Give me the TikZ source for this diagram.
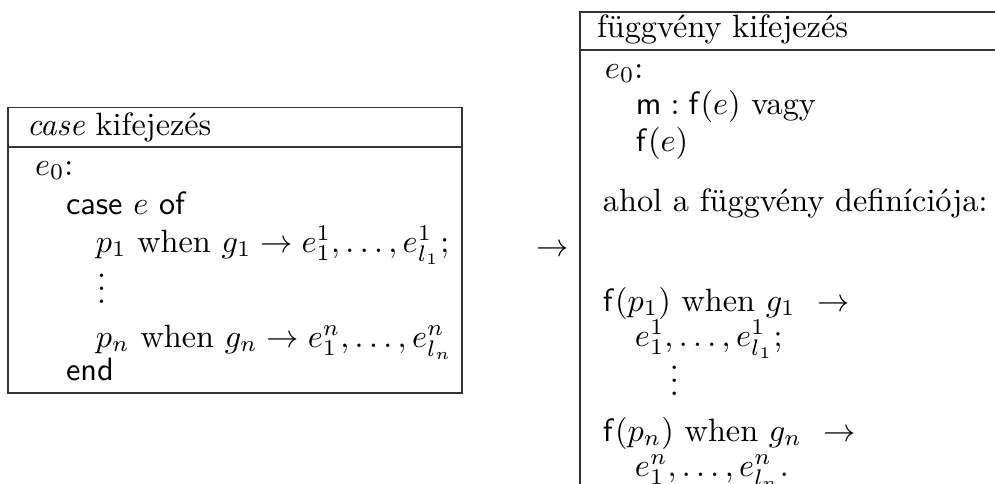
\documentclass[tikz,border=0pt]{standalone}
\usepackage{amsmath}
\begin{document}
\begin{tikzpicture}[x=0.31pt,y=-0.31pt,
  txt/.style={anchor=base west, inner sep=0pt, outer sep=0pt},
  boxline/.style={draw=black!80, line width=0.55pt}]
\useasboundingbox (0,0) rectangle (995,484);
\clip (0,0) rectangle (995,484);
% left box
\draw[boxline] (8,107.5) rectangle (462,393);
\draw[boxline] (8,147) -- (462,147);
\node[txt] (lh) at (27,135) {\textit{case} kifejezés};
\node[txt] (l1) at (35,175) {$e_0$:};
\node[txt] (l2) at (66,214) {\textsf{case} $e$ \textsf{of}};
\node[txt] (l3) at (96,252) {$p_1$ when $g_1 \rightarrow e_1^1, \ldots, e_{l_1}^1;$};
\node[txt] (l4) at (97,303) {$\vdots$};
\node[txt] (l5) at (96,347) {$p_n$ when $g_n \rightarrow e_1^n, \ldots, e_{l_n}^n$};
\node[txt] (l6) at (66,380) {\textsf{end}};
% arrow
\node[inner sep=0pt] (arr) at (553,251) {$\rightarrow$};
% right box
\draw[boxline] (1010,12) -- (580,12) -- (580,500);
\draw[boxline] (580,50) -- (1010,50);
\node[txt] (rh) at (597,37) {függvény kifejezés};
\node[txt] (r1) at (605,78) {$e_0$:};
\node[txt] (r2) at (636,114) {$\mathsf{m} : \mathsf{f}(e)$ vagy};
\node[txt] (r3) at (636,151) {$\mathsf{f}(e)$};
\node[txt] (r4) at (603,211) {ahol a függvény definíciója:};
\node[txt] (r5) at (603,311) {$\mathsf{f}(p_1)$ when $g_1$ \ $\rightarrow$};
\node[txt] (r6) at (635,346) {$e_1^1, \ldots, e_{l_1}^1;$};
\node[txt] (r7) at (670,395) {$\vdots$};
\node[txt] (r8) at (603,441) {$\mathsf{f}(p_n)$ when $g_n$ \ $\rightarrow$};
\node[txt] (r9) at (635,476) {$e_1^n, \ldots, e_{l_n}^n.$};
\end{tikzpicture}
\end{document}
